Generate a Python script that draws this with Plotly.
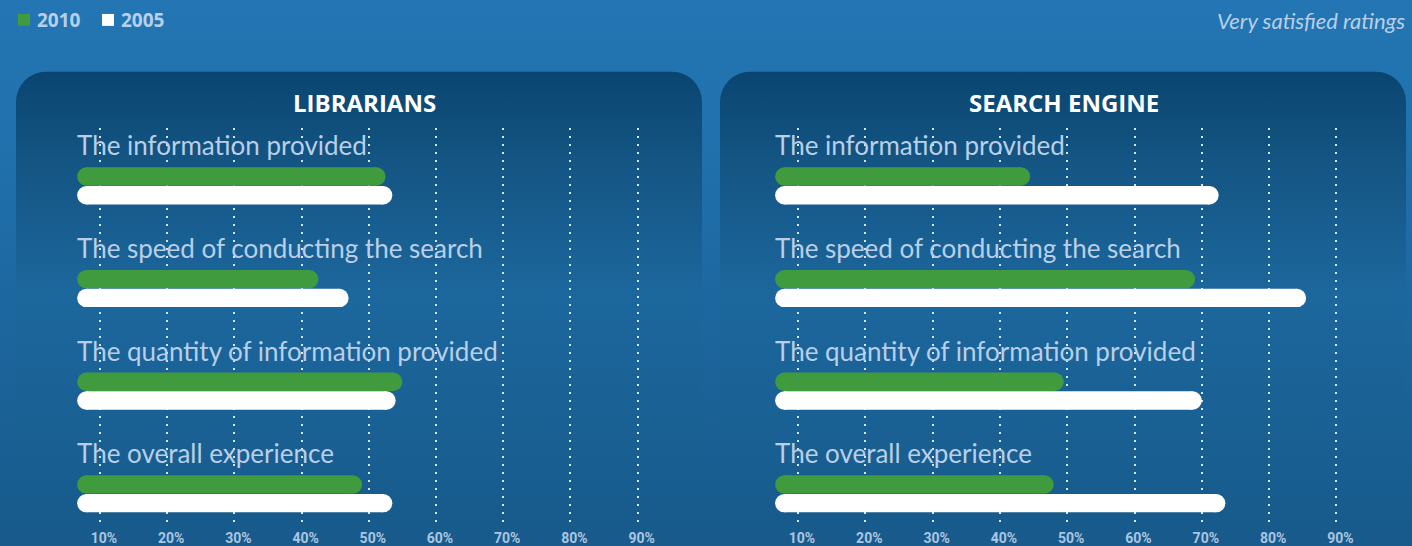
import base64
import plotly.graph_objects as go

W, H = 1412, 546

# ---- data -------------------------------------------------------------
categories = [
    "The information provided",
    "The speed of conducting the search",
    "The quantity of information provided",
    "The overall experience",
]
years = ["2010", "2005"]
librarians_2010 = [52.5, 42.5, 55.0, 49.0]
librarians_2005 = [53.5, 47.0, 54.0, 53.5]
search_engine_2010 = [44.5, 69.0, 49.5, 48.0]
search_engine_2005 = [72.5, 85.5, 70.0, 73.5]
tick_values = [10, 20, 30, 40, 50, 60, 70, 80, 90]
tick_labels = ["10%", "20%", "30%", "40%", "50%", "60%", "70%", "80%", "90%"]
bar_origin = 6.6  # where every bar begins on the percentage scale

# ---- styling ----------------------------------------------------------
GREEN = "#409b3e"
WHITE = "#ffffff"
LABEL = "#b9cfe8"
TICK = "#abc6e2"
GRID = "rgba(214,230,246,1)"
BAR_PX = 18.4          # bar thickness in pixels
GROUP_PX = 103.0       # distance between category groups
PAIR_PX = 9.4          # half distance between the two bars of a group

panels = [
    # title, px extent, px of 0 %, px per 1 %, series
    dict(title="LIBRARIANS", px=(16, 702), zero=32.8, scale=6.72,
         series=(librarians_2010, librarians_2005), title_x=364),
    dict(title="SEARCH ENGINE", px=(720, 1406), zero=730.7, scale=6.73,
         series=(search_engine_2010, search_engine_2005), title_x=1064),
]
PLOT_TOP, PLOT_BOTTOM = 128, 529
FIRST_GROUP = 186.6


def fx(p):
    return p / W


def fy(p):
    return 1 - p / H


# ---- background: page gradient and two rounded panels ------------------
def panel_path(x0, x1, top, r=30):
    return (f"M{x0},{H} V{top + r} A{r},{r} 0 0 1 {x0 + r},{top} "
            f"H{x1 - r} A{r},{r} 0 0 1 {x1},{top + r} V{H} Z")


svg = f"""<svg xmlns="http://www.w3.org/2000/svg" width="{W}" height="{H}" viewBox="0 0 {W} {H}">
<defs>
<linearGradient id="bg" x1="0" y1="0" x2="0" y2="{H}" gradientUnits="userSpaceOnUse">
<stop offset="0" stop-color="#2376b3"/>
<stop offset="0.3" stop-color="#2070ac"/>
<stop offset="0.55" stop-color="#1d67a0"/>
<stop offset="1" stop-color="#175a8b"/>
</linearGradient>
<linearGradient id="panel" x1="0" y1="72" x2="0" y2="{H}" gradientUnits="userSpaceOnUse">
<stop offset="0" stop-color="#0a4570"/>
<stop offset="0.19" stop-color="#145583"/>
<stop offset="0.47" stop-color="#1c679d"/>
<stop offset="1" stop-color="#175a8b"/>
</linearGradient>
</defs>
<rect width="{W}" height="{H}" fill="url(#bg)"/>
<path d="{panel_path(16, 702, 72)}" fill="url(#panel)"/>
<path d="{panel_path(720, 1406, 72)}" fill="url(#panel)"/>
</svg>"""
bg_uri = "data:image/svg+xml;base64," + base64.b64encode(svg.encode()).decode()

fig = go.Figure()

y_lo = (PLOT_BOTTOM - FIRST_GROUP) / GROUP_PX
y_hi = (PLOT_TOP - FIRST_GROUP) / GROUP_PX
pair_off = PAIR_PX / GROUP_PX

annotations = []
for k, p in enumerate(panels):
    sfx = "" if k == 0 else str(k + 1)
    xa, ya = "x" + sfx, "y" + sfx
    r = (BAR_PX / 2) / p["scale"]  # rounded-cap radius in % units
    for s, (vals, color) in enumerate(zip(p["series"], (GREEN, WHITE))):
        xs, ys = [], []
        off = -pair_off if s == 0 else pair_off
        for i, v in enumerate(vals):
            xs += [bar_origin + r, v - r, None]
            ys += [i + off, i + off, None]
        fig.add_trace(go.Scatter(
            x=xs, y=ys, mode="lines+markers", xaxis=xa, yaxis=ya,
            line=dict(color=color, width=BAR_PX),
            marker=dict(color=color, size=BAR_PX, line=dict(width=0)),
            name=years[s], showlegend=False, hoverinfo="skip",
        ))
    for i, cat in enumerate(categories):
        annotations.append(dict(
            x=bar_origin, y=i - 0.394, xref=xa, yref=ya, text=cat,
            showarrow=False, xanchor="left", yanchor="middle", xshift=-2,
            font=dict(family="Lato", size=26, color=LABEL),
        ))
    annotations.append(dict(
        x=fx(p["title_x"]), y=fy(103), xref="paper", yref="paper",
        text=f"<b>{p['title']}</b>", showarrow=False,
        xanchor="center", yanchor="middle",
        font=dict(family="Open Sans", size=24, color=WHITE),
    ))
    x0, x1 = p["px"]
    axis_common = dict(showline=False, zeroline=False, fixedrange=True)
    fig.update_layout(**{
        "xaxis" + sfx: dict(
            domain=[fx(x0), fx(x1)],
            range=[(x0 - p["zero"]) / p["scale"], (x1 - p["zero"]) / p["scale"]],
            tickvals=tick_values, ticktext=[f"<b>{t}</b>" for t in tick_labels],
            ticks="",
            showgrid=True, gridcolor=GRID, gridwidth=2, griddash="2px,6px",
            tickfont=dict(family="Roboto", size=14, color=TICK),
            ticklabelshift=4, ticklabelstandoff=1,
            anchor=ya, **axis_common,
        ),
        "yaxis" + sfx: dict(
            domain=[fy(PLOT_BOTTOM), fy(PLOT_TOP)],
            range=[y_lo, y_hi], showgrid=False, showticklabels=False,
            anchor=xa, **axis_common,
        ),
    })

# legend keys and caption
shapes = [
    dict(type="rect", xref="paper", yref="paper", x0=fx(18), x1=fx(30),
         y0=fy(26), y1=fy(14), fillcolor=GREEN, line=dict(width=0)),
    dict(type="rect", xref="paper", yref="paper", x0=fx(102), x1=fx(114),
         y0=fy(26), y1=fy(14), fillcolor=WHITE, line=dict(width=0)),
]
for label, left in zip(years, (35, 119)):
    annotations.append(dict(
        x=fx(left), y=fy(20), xref="paper", yref="paper", text=f"<b>{label}</b>",
        showarrow=False, xanchor="left", yanchor="middle",
        font=dict(family="Open Sans", size=19, color=LABEL),
    ))
annotations.append(dict(
    x=fx(1407), y=fy(21), xref="paper", yref="paper",
    text="<i>Very satisfied ratings</i>", showarrow=False,
    xanchor="right", yanchor="middle",
    font=dict(family="Lato", size=22, color=LABEL),
))

fig.update_layout(
    width=W, height=H, margin=dict(l=0, r=0, t=0, b=0),
    paper_bgcolor="#175a8b", plot_bgcolor="rgba(0,0,0,0)",
    showlegend=False, annotations=annotations, shapes=shapes,
    images=[dict(source=bg_uri, xref="paper", yref="paper", x=0, y=1,
                 sizex=1, sizey=1, xanchor="left", yanchor="top",
                 sizing="stretch", layer="below")],
)

fig.write_html("out.html", config={"displayModeBar": False})
